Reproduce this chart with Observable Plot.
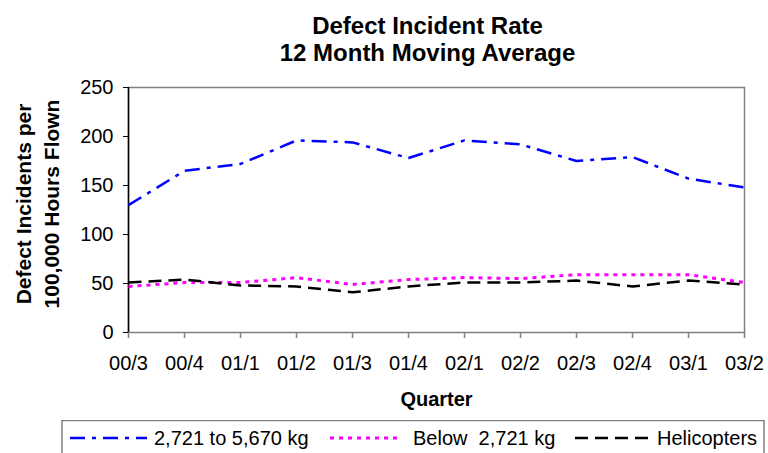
<!DOCTYPE html>
<html>
<head>
<meta charset="utf-8">
<script src="https://cdn.jsdelivr.net/npm/d3@7"></script>
<script src="https://cdn.jsdelivr.net/npm/@observablehq/plot@0.6"></script>
<style>
  html, body { margin: 0; padding: 0; background: #fff; }
  #wrap { position: relative; width: 768px; height: 453px; overflow: hidden; font-family: "Liberation Sans", Arial, sans-serif; }
  #wrap svg { display: block; }
</style>
</head>
<body>
<div id="wrap"></div>
<script>
// ---- data ----
const quarters = ["00/3","00/4","01/1","01/2","01/3","01/4","02/1","02/2","02/3","02/4","03/1","03/2"];
const heavyVals = [130, 165, 172, 196, 194, 178, 196, 192, 175, 179, 157, 148];
const lightVals = [47, 51, 51, 56, 49, 54, 56, 55, 59, 59, 59, 51];
const heliVals  = [51, 54, 48, 47, 41, 47, 51, 51, 53, 47, 53, 49];
const seriesNames = ["2,721 to 5,670 kg", "Below  2,721 kg", "Helicopters"];
const yTicks = [0, 50, 100, 150, 200, 250];
const titleText = "Defect Incident Rate\n12 Month Moving Average";
const yLabel = "Defect Incidents per\n100,000 Hours Flown";
const xLabel = "Quarter";

// styles
const styles = [
  {color: "#0000ff", dash: "15,7,4,7", width: 2.5},
  {color: "#ff00ff", dash: "4,5", width: 3},
  {color: "#000000", dash: "13,7", width: 2.5}
];
const seriesVals = [heavyVals, lightVals, heliVals];

const font = '"Liberation Sans", Arial, sans-serif';

const lineMarks = seriesVals.map((vals, s) =>
  Plot.line(vals, {
    x: (d, i) => quarters[i],
    y: d => d,
    stroke: styles[s].color,
    strokeWidth: styles[s].width,
    strokeDasharray: styles[s].dash,
    strokeLinejoin: "round",
    strokeLinecap: "butt"
  })
);

const chart = Plot.plot({
  width: 768,
  height: 420,
  marginLeft: 128,
  marginRight: 24,
  marginTop: 87,
  marginBottom: 88,
  style: {fontFamily: font, fontSize: "20px", color: "black", background: "white"},
  x: {type: "point", domain: quarters, padding: 0, label: null},
  y: {domain: [0, 250], ticks: yTicks, label: null},
  marks: [
    Plot.frame({stroke: "#808080", strokeWidth: 1.5}),
    Plot.axisX({tickSize: 6, tickPadding: 17, stroke: "#808080", strokeWidth: 1.5, fill: "black", fontSize: 20, label: null}),
    Plot.axisY(yTicks, {tickSize: 5, tickPadding: 10, stroke: "black", fill: "black", fontSize: 20, label: null}),
    Plot.ruleX([quarters[0]], {stroke: "black", strokeWidth: 1.5}),
    ...lineMarks,
    Plot.text([titleText], {
      text: d => d, frameAnchor: "top", textAnchor: "middle", lineAnchor: "bottom", lineHeight: 1.125,
      dx: -9, dy: -27, fontSize: 24, fontWeight: "bold", fill: "black"
    }),
    Plot.text([yLabel], {
      text: d => d, frameAnchor: "left", textAnchor: "middle", rotate: -90, lineAnchor: "bottom", lineHeight: 1.29,
      dx: -70, dy: -6, fontSize: 21, fontWeight: "bold", fill: "black"
    }),
    Plot.text([xLabel], {
      text: d => d, frameAnchor: "bottom", textAnchor: "middle", lineAnchor: "bottom",
      dx: 0, dy: 73, fontSize: 20, fontWeight: "bold", fill: "black"
    })
  ]
});
document.getElementById("wrap").appendChild(chart);

// ---- legend ----
const ns = "http://www.w3.org/2000/svg";
const leg = document.createElementNS(ns, "svg");
leg.setAttribute("width", 768);
leg.setAttribute("height", 33);
leg.setAttribute("font-family", font);
const box = document.createElementNS(ns, "rect");
box.setAttribute("x", 62); box.setAttribute("y", 0.5);
box.setAttribute("width", 702); box.setAttribute("height", 60);
box.setAttribute("fill", "white"); box.setAttribute("stroke", "#808080"); box.setAttribute("stroke-width", 1.5);
leg.appendChild(box);
const sampleX = [[70, 147], [330, 402], [575, 650]];
const textX = [154, 413, 657];
seriesNames.forEach((name, s) => {
  const ln = document.createElementNS(ns, "line");
  ln.setAttribute("x1", sampleX[s][0]); ln.setAttribute("x2", sampleX[s][1]);
  ln.setAttribute("y1", 18); ln.setAttribute("y2", 18);
  ln.setAttribute("stroke", styles[s].color);
  ln.setAttribute("stroke-width", styles[s].width);
  ln.setAttribute("stroke-dasharray", styles[s].dash);
  leg.appendChild(ln);
  const t = document.createElementNS(ns, "text");
  t.setAttribute("x", textX[s]); t.setAttribute("y", 25);
  t.setAttribute("font-size", 20);
  t.setAttribute("fill", "black");
  t.setAttribute("xml:space", "preserve");
  t.style.whiteSpace = "pre";
  t.textContent = name;
  leg.appendChild(t);
});
document.getElementById("wrap").appendChild(leg);
</script>
</body>
</html>
